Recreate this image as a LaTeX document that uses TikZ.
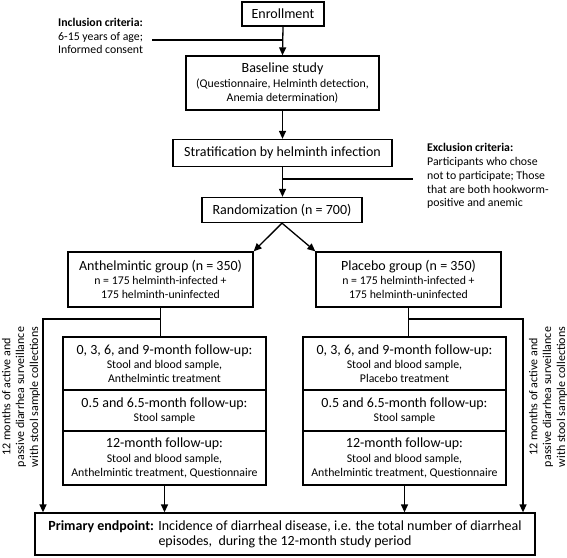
\documentclass[tikz,border=0pt]{standalone}
\usepackage{fontspec}
\setmainfont{Carlito}
\usetikzlibrary{arrows.meta}
\newcommand{\bigf}{\fontsize{14}{16}\selectfont}
\newcommand{\smallf}{\fontsize{11.8}{14}\selectfont}
\newcommand{\notef}{\fontsize{11.8}{13.7}\selectfont}
\newcommand{\sidef}{\fontsize{12}{13.8}\selectfont}
\tikzset{
  box/.style={draw, line width=1.3pt, align=center, inner sep=0pt, font=\smallf},
  conn/.style={line width=1.3pt},
  arr/.style={line width=1.3pt, -{Triangle[length=8pt,width=7pt]}},
  note/.style={align=left, inner sep=0pt, font=\notef},
  side/.style={align=center, inner sep=0pt, font=\sidef, rotate=90}
}
\begin{document}
\begin{tikzpicture}[x=1pt,y=-1pt]
\useasboundingbox (0,0) rectangle (567,557);
\node[box, minimum width=82pt, minimum height=24pt, font=\bigf] (enroll) at (283,14) {Enrollment};
\node[note, anchor=north west] (incl) at (58,18) {\textbf{Inclusion criteria:}\\6-15 years of age;\\Informed consent};
\node[box, minimum width=193pt, minimum height=54pt] (base) at (282.5,83) {{\bigf Baseline study}\\[0.5pt](Questionnaire, Helminth detection,\\Anemia determination)};
\node[box, minimum width=219pt, minimum height=27pt, font=\bigf] (strat) at (282.5,153) {Stratification by helminth infection};
\node[note, anchor=north west] (excl) at (427,143.5) {\textbf{Exclusion criteria:}\\Participants who chose\\not to participate; Those\\that are both hookworm-\\positive and anemic};
\node[box, minimum width=160pt, minimum height=25pt, font=\bigf] (rand) at (282,210) {Randomization (n = 700)};
\node[box, minimum width=185pt, minimum height=55pt] (anth) at (160.5,279.5) {{\bigf Anthelmintic group (n = 350)}\\[0.5pt]n = 175 helminth-infected +\\175 helminth-uninfected};
\node[box, minimum width=185pt, minimum height=55pt] (plac) at (408.5,279.5) {{\bigf Placebo group (n = 350)}\\[0.5pt]n = 175 helminth-infected +\\175 helminth-uninfected};
% left follow-up
\node[box, minimum width=203pt, minimum height=53pt] (la) at (164.5,363.5) {{\bigf 0, 3, 6, and 9-month follow-up:}\\[0.5pt]Stool and blood sample,\\Anthelmintic treatment};
\node[box, minimum width=203pt, minimum height=41pt] (lb) at (164.5,410.5) {{\bigf 0.5 and 6.5-month follow-up:}\\[0.5pt]Stool sample};
\node[box, minimum width=203pt, minimum height=54pt] (lc) at (164.5,458) {{\bigf 12-month follow-up:}\\[0.5pt]Stool and blood sample,\\Anthelmintic treatment, Questionnaire};
% right follow-up
\node[box, minimum width=203pt, minimum height=53pt] (ra) at (404.5,363.5) {{\bigf 0, 3, 6, and 9-month follow-up:}\\[0.5pt]Stool and blood sample,\\Placebo treatment};
\node[box, minimum width=203pt, minimum height=41pt] (rb) at (404.5,410.5) {{\bigf 0.5 and 6.5-month follow-up:}\\[0.5pt]Stool sample};
\node[box, minimum width=203pt, minimum height=54pt] (rc) at (404.5,458) {{\bigf 12-month follow-up:}\\[0.5pt]Stool and blood sample,\\Anthelmintic treatment, Questionnaire};
% primary
\node[box, minimum width=500pt, minimum height=42pt, font=\fontsize{14}{15}\selectfont] (prim) at (285,534) {\textbf{Primary endpoint:} Incidence of diarrheal disease, i.e. the total number of diarrheal\\episodes,\ \ during the 12-month study period};
% side texts
\node[side] (lside) at (21,397) {12 months of active and\\passive diarrhea surveillance\\with stool sample collections};
\node[side] (rside) at (548,397) {12 months of active and\\passive diarrhea surveillance\\with stool sample collections};
% coordinates
\coordinate (inc) at (152,40);
\coordinate (exc) at (413,179);
\coordinate (lturn) at (43,319);
\coordinate (rturn) at (523,319);
% connectors
\draw[arr] (enroll.south) -- (base.north);
\draw[conn] (inc) -- (inc -| enroll.south);
\draw[arr] (base.south) -- (base.south |- strat.north);
\draw[arr] (strat.south) -- (strat.south |- rand.north);
\draw[conn] (exc -| strat.south) -- (exc);
\draw[arr] (rand.south) -- (anth.north east);
\draw[arr] (rand.south) -- (plac.north west);
\draw[conn] (anth.south) -- (anth.south |- la.north);
\draw[conn] (plac.south) -- (plac.south |- ra.north);
\draw[arr] (anth.south |- lturn) -- (lturn) -- (lturn |- prim.north);
\draw[arr] (plac.south |- rturn) -- (rturn) -- (rturn |- prim.north);
\draw[arr] (lc.south) -- (lc.south |- prim.north);
\draw[arr] (rc.south) -- (rc.south |- prim.north);
\end{tikzpicture}
\end{document}
